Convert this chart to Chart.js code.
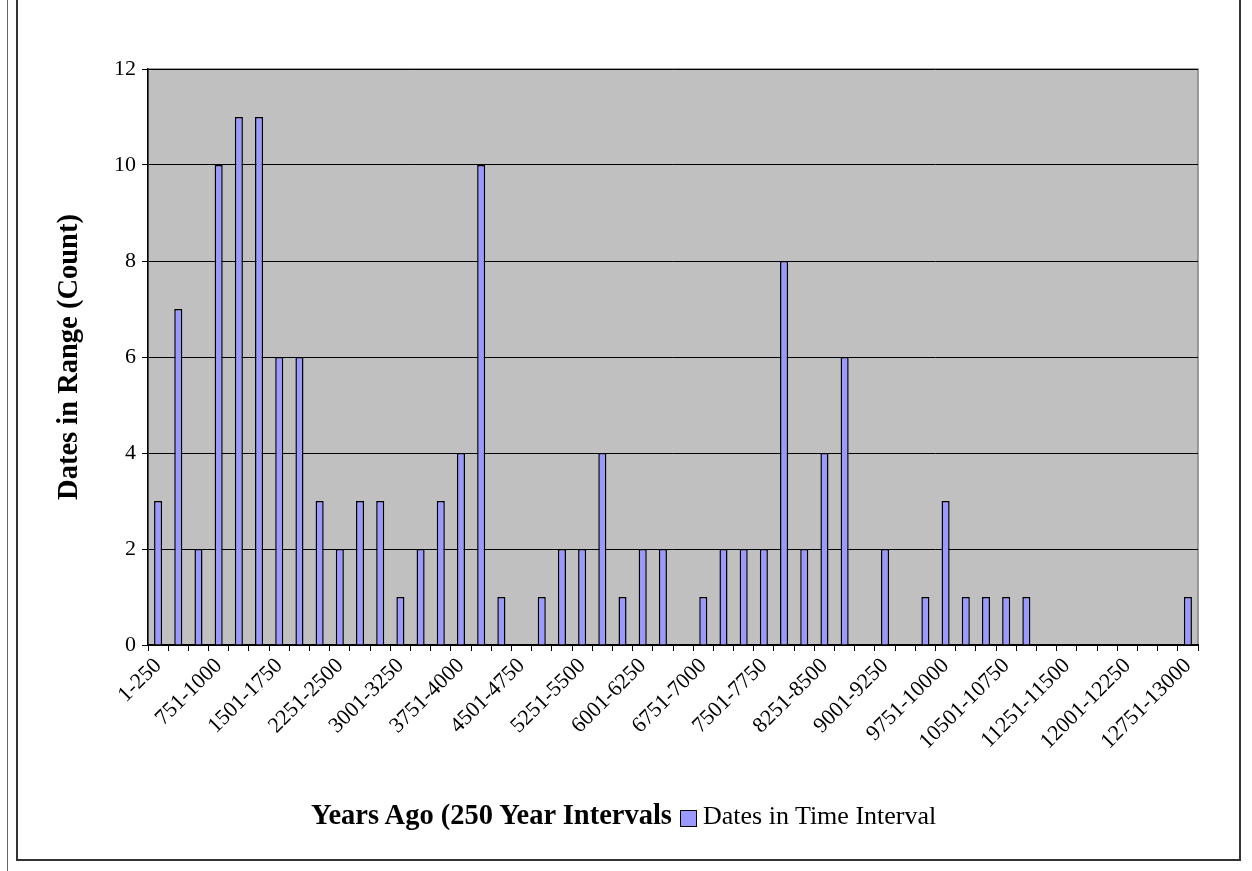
<!DOCTYPE html>
<html>
<head>
<meta charset="utf-8">
<script src="https://cdn.jsdelivr.net/npm/chart.js@4/dist/chart.umd.min.js"></script>
<style>
  html, body { margin: 0; padding: 0; background: #fff; }
  #wrap { position: relative; width: 1252px; height: 871px; overflow: hidden; }
  #frame { position: absolute; left: 16px; top: -4px; width: 1225px; height: 865px; border: 2px solid #333; box-sizing: border-box; }
  #edge { position: absolute; left: 7px; top: 0; width: 1px; height: 871px; background: #666; }
  #foot { position: absolute; left: 311px; top: 797px; font-family: 'Liberation Serif', 'Times New Roman', serif; font-size: 26px; color: #000; white-space: nowrap; line-height: 36px; }
  #foot b { font-weight: bold; font-size: 28.5px; }
  #foot .sw { display: inline-block; width: 15px; height: 15px; background: #9999ff; border: 1.5px solid #000; margin: 0 6px 0 8px; vertical-align: -3px; }
</style>
</head>
<body>
<div id="wrap">
  <div id="edge"></div>
  <div id="frame"></div>
  <canvas id="c" width="1252" height="871"></canvas>
  <div id="foot"><b>Years Ago (250 Year Intervals</b><span class="sw"></span>Dates in Time Interval</div>
</div>
<script>
// 250-year bins, oldest last
const ranges = [
  '1-250', '251-500', '501-750', '751-1000', '1001-1250', '1251-1500',
  '1501-1750', '1751-2000', '2001-2250', '2251-2500', '2501-2750', '2751-3000',
  '3001-3250', '3251-3500', '3501-3750', '3751-4000', '4001-4250', '4251-4500',
  '4501-4750', '4751-5000', '5001-5250', '5251-5500', '5501-5750', '5751-6000',
  '6001-6250', '6251-6500', '6501-6750', '6751-7000', '7001-7250', '7251-7500',
  '7501-7750', '7751-8000', '8001-8250', '8251-8500', '8501-8750', '8751-9000',
  '9001-9250', '9251-9500', '9501-9750', '9751-10000', '10001-10250', '10251-10500',
  '10501-10750', '10751-11000', '11001-11250', '11251-11500', '11501-11750', '11751-12000',
  '12001-12250', '12251-12500', '12501-12750', '12751-13000'
];

const datesInInterval = [
  3, 7, 2, 10, 11, 11, 6, 6, 3, 2, 3, 3,
  1, 2, 3, 4, 10, 1, 0, 1, 2, 2, 4, 1,
  2, 2, 0, 1, 2, 2, 2, 8, 2, 4, 6, 0,
  2, 0, 1, 3, 1, 1, 1, 1, 0, 0, 0, 0,
  0, 0, 0, 1
];

const yTicks = [0, 2, 4, 6, 8, 10, 12];

// grey plot area with a thin outline, like the old spreadsheet charts
const plotBackground = {
  id: 'plotBackground',
  beforeDraw(chart) {
    const { ctx, chartArea: a } = chart;
    ctx.save();
    ctx.fillStyle = '#c0c0c0';
    ctx.fillRect(a.left, a.top, a.right - a.left, a.bottom - a.top);
    ctx.strokeStyle = '#808080';
    ctx.lineWidth = 1.5;
    ctx.strokeRect(a.left, a.top, a.right - a.left, a.bottom - a.top);
    ctx.restore();
  }
};

const serif = "'Liberation Serif', 'Times New Roman', serif";

new Chart(document.getElementById('c'), {
  type: 'bar',
  data: {
    labels: ranges,
    datasets: [{
      label: 'Dates in Time Interval',
      data: datesInInterval,
      backgroundColor: '#9999ff',
      borderColor: '#000',
      borderWidth: 1.5,
      barPercentage: 0.4,
      categoryPercentage: 1.0
    }]
  },
  options: {
    responsive: false,
    animation: false,
    layout: { padding: { left: 53, top: 69, right: 54, bottom: 0 } },
    plugins: {
      legend: { display: false },
      tooltip: { enabled: false }
    },
    scales: {
      x: {
        offset: true,
        grid: { offset: true, drawOnChartArea: false, drawTicks: true, tickLength: 6, color: '#000' },
        border: { color: '#000', width: 1.5 },
        ticks: {
          autoSkip: false,
          minRotation: 45,
          maxRotation: 45,
          padding: 2,
          color: '#000',
          font: { family: serif, size: 22 },
          callback: (v, i) => (i % 3 === 0 ? ranges[i] : '')
        },
        afterFit: s => { s.height = 226; }
      },
      y: {
        min: 0,
        max: 12,
        afterBuildTicks: s => { s.ticks = yTicks.map(v => ({ value: v })); },
        grid: { color: '#000', lineWidth: 1, drawTicks: true, tickLength: 6 },
        border: { color: '#000', width: 1.5 },
        ticks: { color: '#000', padding: 6, font: { family: serif, size: 22 } },
        title: {
          display: true,
          text: 'Dates in Range (Count)',
          color: '#000',
          font: { family: serif, size: 28.5, weight: 'bold' },
          padding: { top: 0, bottom: 10 }
        },
        afterFit: s => { s.width = 95; }
      }
    }
  },
  plugins: [plotBackground]
});
</script>
</body>
</html>
